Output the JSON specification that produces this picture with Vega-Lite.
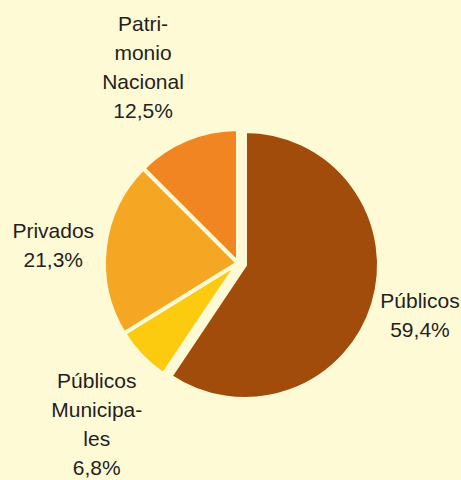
{
  "$schema": "https://vega.github.io/schema/vega-lite/v6.json",
  "autosize": "none",
  "width": 446,
  "height": 434,
  "padding": {"left": 15, "top": 46, "right": 0, "bottom": 0},
  "background": "#FFFAD6",
  "config": {"view": {"stroke": null}},
  "data": {
    "values": [
      {"cat": "Públicos", "pct": 59.4, "orden": 1, "label": ["Públicos", "59,4%"]},
      {"cat": "Públicos Municipales", "pct": 6.8, "orden": 2, "label": ["Públicos", "Municipa-", "les", "6,8%"]},
      {"cat": "Privados", "pct": 21.3, "orden": 3, "label": ["Privados", "21,3%"]},
      {"cat": "Patrimonio Nacional", "pct": 12.5, "orden": 4, "label": ["Patri-", "monio", "Nacional", "12,5%"]}
    ]
  },
  "encoding": {
    "theta": {"field": "pct", "type": "quantitative", "stack": true},
    "order": {"field": "orden", "type": "quantitative"}
  },
  "layer": [
    {
      "mark": {"type": "arc", "radius": 134, "stroke": "#FFFAD6", "strokeWidth": 4},
      "encoding": {
        "color": {
          "field": "cat", "type": "nominal", "legend": null,
          "scale": {
            "domain": ["Públicos", "Públicos Municipales", "Privados", "Patrimonio Nacional"],
            "range": ["#A24C0B", "#FCCB0F", "#F5A623", "#F08522"]
          }
        },
        "opacity": {"condition": {"test": "datum.cat == 'Públicos'", "value": 0}, "value": 1}
      }
    },
    {
      "mark": {"type": "arc", "radius": 134, "stroke": "#FFFAD6", "strokeWidth": 4, "xOffset": 7, "yOffset": 2},
      "encoding": {
        "color": {
          "field": "cat", "type": "nominal", "legend": null,
          "scale": {
            "domain": ["Públicos", "Públicos Municipales", "Privados", "Patrimonio Nacional"],
            "range": ["#A24C0B", "#FCCB0F", "#F5A623", "#F08522"]
          }
        },
        "opacity": {"condition": {"test": "datum.cat == 'Públicos'", "value": 1}, "value": 0}
      }
    },
    {
      "mark": {
        "type": "text",
        "font": "Liberation Sans",
        "fontSize": 21,
        "lineHeight": 29,
        "color": "#231F20",
        "align": "center",
        "baseline": "middle",
        "radius": {"expr": "datum.cat == 'Patrimonio Nacional' ? 256 : datum.cat == 'Públicos Municipales' ? 185 : 186"},
        "dx": {"expr": "datum.cat == 'Patrimonio Nacional' ? 3 : datum.cat == 'Públicos' ? 4 : datum.cat == 'Públicos Municipales' ? -8 : 0"},
        "dy": {"expr": "datum.cat == 'Patrimonio Nacional' ? -1 : datum.cat == 'Públicos' ? -15 : datum.cat == 'Públicos Municipales' ? -9 : -9"}
      },
      "encoding": {
        "text": {"field": "label"}
      }
    }
  ]
}
